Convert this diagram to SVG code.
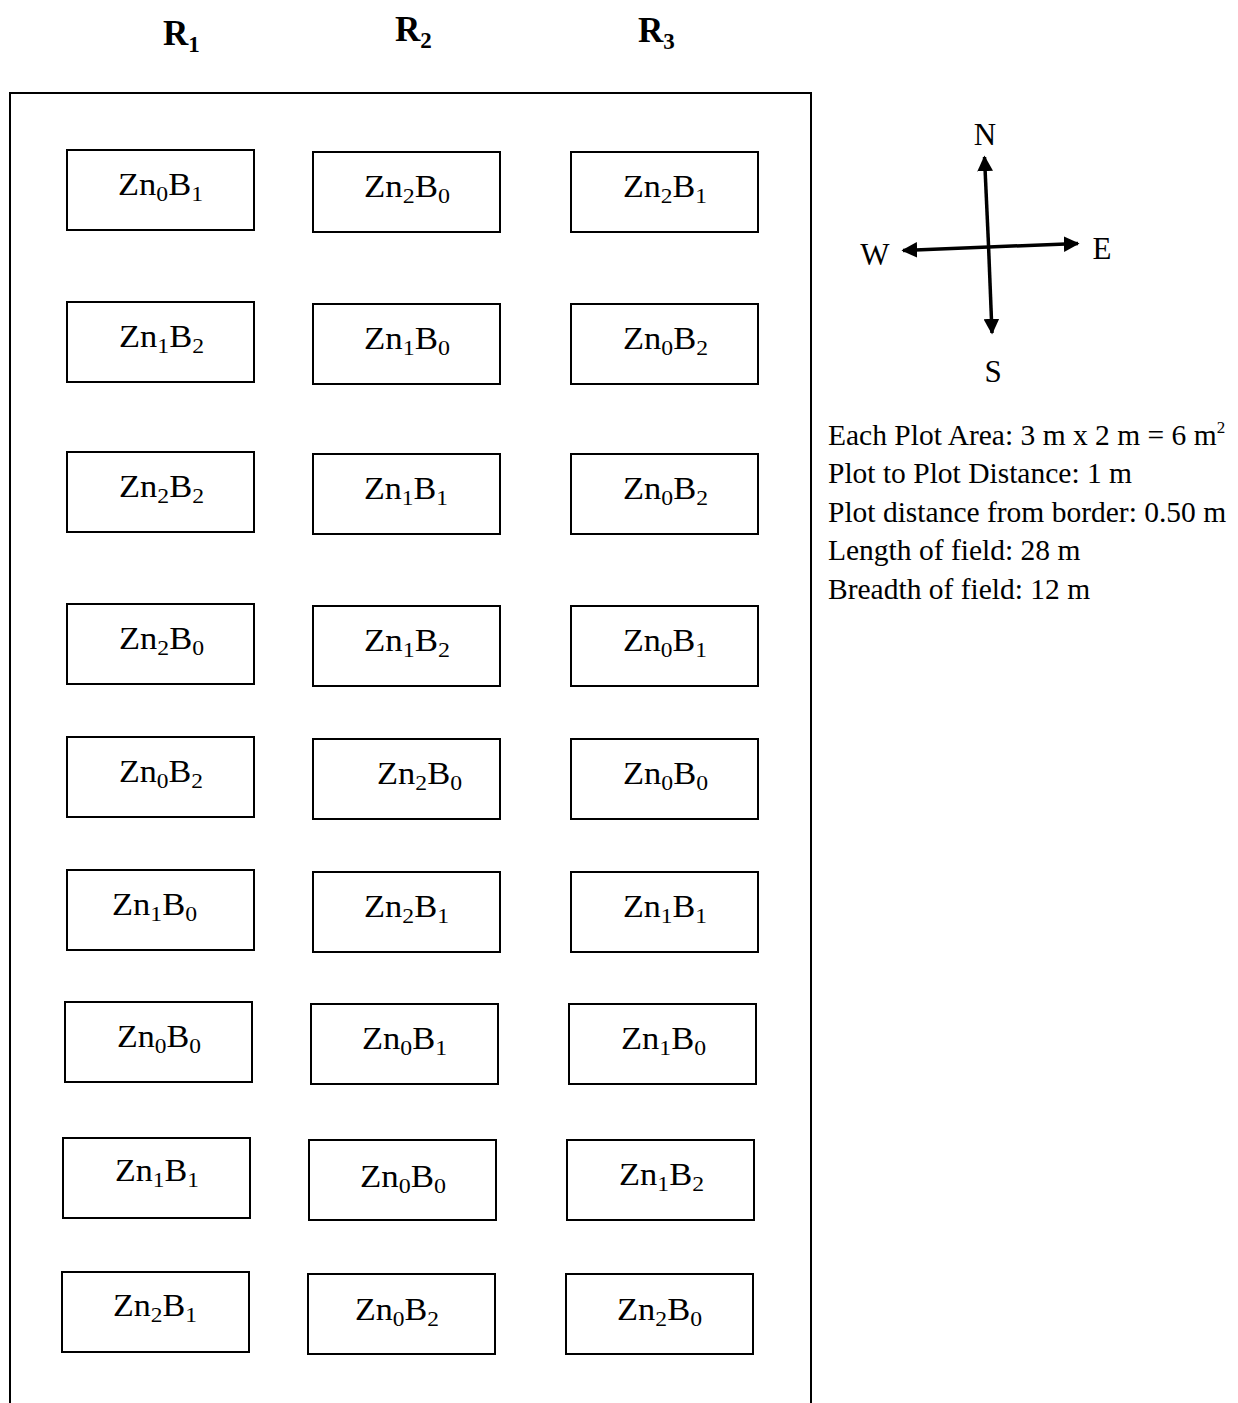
<svg xmlns="http://www.w3.org/2000/svg" width="1238" height="1403" viewBox="0 0 1238 1403">
<style>
.plot{fill:#fff;stroke:#000;stroke-width:2}
.lbl{font-family:"Liberation Serif","Times New Roman",serif;font-size:32px;fill:#000}
.sub{font-size:22px}
.hdr{font-family:"Liberation Serif","Times New Roman",serif;font-size:35px;font-weight:bold;fill:#000}
.hsub{font-size:23px}
.leg{font-family:"Liberation Serif","Times New Roman",serif;font-size:29.5px;fill:#000}
.cmp{font-family:"Liberation Serif","Times New Roman",serif;font-size:31px;fill:#000;text-anchor:middle}
.ax{stroke:#000;stroke-width:3.5;fill:none}
</style>
<defs>
<marker id="ah" viewBox="0 0 10 10" refX="9" refY="5" markerWidth="4.5" markerHeight="4.5" markerUnits="strokeWidth" orient="auto">
<path d="M0,0 L10,5 L0,10 z" fill="#000"/>
</marker>
</defs>
<rect width="1238" height="1403" fill="#fff"/>
<g id="headers">
<text class="hdr" x="163" y="45">R<tspan class="hsub" dy="7">1</tspan></text>
<text class="hdr" x="395" y="41">R<tspan class="hsub" dy="7">2</tspan></text>
<text class="hdr" x="638" y="42">R<tspan class="hsub" dy="7">3</tspan></text>
</g>
<g id="field">
<path d="M10,1403 V93 H811 V1403" fill="none" stroke="#000" stroke-width="2"/>
</g>
<g id="plots">
<g id="p1-1"><rect class="plot" x="67" y="150" width="187" height="80"/><text class="lbl" x="118" y="195" textLength="85" lengthAdjust="spacingAndGlyphs">Zn<tspan class="sub" dy="6">0</tspan><tspan dy="-6">B</tspan><tspan class="sub" dy="6">1</tspan></text></g>
<g id="p1-2"><rect class="plot" x="313" y="152" width="187" height="80"/><text class="lbl" x="364" y="197" textLength="86" lengthAdjust="spacingAndGlyphs">Zn<tspan class="sub" dy="6">2</tspan><tspan dy="-6">B</tspan><tspan class="sub" dy="6">0</tspan></text></g>
<g id="p1-3"><rect class="plot" x="571" y="152" width="187" height="80"/><text class="lbl" x="623" y="197" textLength="84" lengthAdjust="spacingAndGlyphs">Zn<tspan class="sub" dy="6">2</tspan><tspan dy="-6">B</tspan><tspan class="sub" dy="6">1</tspan></text></g>

<g id="p2-1"><rect class="plot" x="67" y="302" width="187" height="80"/><text class="lbl" x="119" y="347" textLength="85" lengthAdjust="spacingAndGlyphs">Zn<tspan class="sub" dy="6">1</tspan><tspan dy="-6">B</tspan><tspan class="sub" dy="6">2</tspan></text></g>
<g id="p2-2"><rect class="plot" x="313" y="304" width="187" height="80"/><text class="lbl" x="364" y="349" textLength="86" lengthAdjust="spacingAndGlyphs">Zn<tspan class="sub" dy="6">1</tspan><tspan dy="-6">B</tspan><tspan class="sub" dy="6">0</tspan></text></g>
<g id="p2-3"><rect class="plot" x="571" y="304" width="187" height="80"/><text class="lbl" x="623" y="349" textLength="85" lengthAdjust="spacingAndGlyphs">Zn<tspan class="sub" dy="6">0</tspan><tspan dy="-6">B</tspan><tspan class="sub" dy="6">2</tspan></text></g>

<g id="p3-1"><rect class="plot" x="67" y="452" width="187" height="80"/><text class="lbl" x="119" y="497" textLength="85" lengthAdjust="spacingAndGlyphs">Zn<tspan class="sub" dy="6">2</tspan><tspan dy="-6">B</tspan><tspan class="sub" dy="6">2</tspan></text></g>
<g id="p3-2"><rect class="plot" x="313" y="454" width="187" height="80"/><text class="lbl" x="364" y="499" textLength="84" lengthAdjust="spacingAndGlyphs">Zn<tspan class="sub" dy="6">1</tspan><tspan dy="-6">B</tspan><tspan class="sub" dy="6">1</tspan></text></g>
<g id="p3-3"><rect class="plot" x="571" y="454" width="187" height="80"/><text class="lbl" x="623" y="499" textLength="85" lengthAdjust="spacingAndGlyphs">Zn<tspan class="sub" dy="6">0</tspan><tspan dy="-6">B</tspan><tspan class="sub" dy="6">2</tspan></text></g>

<g id="p4-1"><rect class="plot" x="67" y="604" width="187" height="80"/><text class="lbl" x="119" y="649" textLength="85" lengthAdjust="spacingAndGlyphs">Zn<tspan class="sub" dy="6">2</tspan><tspan dy="-6">B</tspan><tspan class="sub" dy="6">0</tspan></text></g>
<g id="p4-2"><rect class="plot" x="313" y="606" width="187" height="80"/><text class="lbl" x="364" y="651" textLength="86" lengthAdjust="spacingAndGlyphs">Zn<tspan class="sub" dy="6">1</tspan><tspan dy="-6">B</tspan><tspan class="sub" dy="6">2</tspan></text></g>
<g id="p4-3"><rect class="plot" x="571" y="606" width="187" height="80"/><text class="lbl" x="623" y="651" textLength="84" lengthAdjust="spacingAndGlyphs">Zn<tspan class="sub" dy="6">0</tspan><tspan dy="-6">B</tspan><tspan class="sub" dy="6">1</tspan></text></g>

<g id="p5-1"><rect class="plot" x="67" y="737" width="187" height="80"/><text class="lbl" x="119" y="782" textLength="84" lengthAdjust="spacingAndGlyphs">Zn<tspan class="sub" dy="6">0</tspan><tspan dy="-6">B</tspan><tspan class="sub" dy="6">2</tspan></text></g>
<g id="p5-2"><rect class="plot" x="313" y="739" width="187" height="80"/><text class="lbl" x="377" y="784" textLength="85" lengthAdjust="spacingAndGlyphs">Zn<tspan class="sub" dy="6">2</tspan><tspan dy="-6">B</tspan><tspan class="sub" dy="6">0</tspan></text></g>
<g id="p5-3"><rect class="plot" x="571" y="739" width="187" height="80"/><text class="lbl" x="623" y="784" textLength="85" lengthAdjust="spacingAndGlyphs">Zn<tspan class="sub" dy="6">0</tspan><tspan dy="-6">B</tspan><tspan class="sub" dy="6">0</tspan></text></g>

<g id="p6-1"><rect class="plot" x="67" y="870" width="187" height="80"/><text class="lbl" x="112" y="915" textLength="85" lengthAdjust="spacingAndGlyphs">Zn<tspan class="sub" dy="6">1</tspan><tspan dy="-6">B</tspan><tspan class="sub" dy="6">0</tspan></text></g>
<g id="p6-2"><rect class="plot" x="313" y="872" width="187" height="80"/><text class="lbl" x="364" y="917" textLength="85" lengthAdjust="spacingAndGlyphs">Zn<tspan class="sub" dy="6">2</tspan><tspan dy="-6">B</tspan><tspan class="sub" dy="6">1</tspan></text></g>
<g id="p6-3"><rect class="plot" x="571" y="872" width="187" height="80"/><text class="lbl" x="623" y="917" textLength="84" lengthAdjust="spacingAndGlyphs">Zn<tspan class="sub" dy="6">1</tspan><tspan dy="-6">B</tspan><tspan class="sub" dy="6">1</tspan></text></g>

<g id="p7-1"><rect class="plot" x="65" y="1002" width="187" height="80"/><text class="lbl" x="117" y="1047" textLength="84" lengthAdjust="spacingAndGlyphs">Zn<tspan class="sub" dy="6">0</tspan><tspan dy="-6">B</tspan><tspan class="sub" dy="6">0</tspan></text></g>
<g id="p7-2"><rect class="plot" x="311" y="1004" width="187" height="80"/><text class="lbl" x="362" y="1049" textLength="85" lengthAdjust="spacingAndGlyphs">Zn<tspan class="sub" dy="6">0</tspan><tspan dy="-6">B</tspan><tspan class="sub" dy="6">1</tspan></text></g>
<g id="p7-3"><rect class="plot" x="569" y="1004" width="187" height="80"/><text class="lbl" x="621" y="1049" textLength="85" lengthAdjust="spacingAndGlyphs">Zn<tspan class="sub" dy="6">1</tspan><tspan dy="-6">B</tspan><tspan class="sub" dy="6">0</tspan></text></g>

<g id="p8-1"><rect class="plot" x="63" y="1138" width="187" height="80"/><text class="lbl" x="115" y="1181" textLength="84" lengthAdjust="spacingAndGlyphs">Zn<tspan class="sub" dy="6">1</tspan><tspan dy="-6">B</tspan><tspan class="sub" dy="6">1</tspan></text></g>
<g id="p8-2"><rect class="plot" x="309" y="1140" width="187" height="80"/><text class="lbl" x="360" y="1187" textLength="86" lengthAdjust="spacingAndGlyphs">Zn<tspan class="sub" dy="6">0</tspan><tspan dy="-6">B</tspan><tspan class="sub" dy="6">0</tspan></text></g>
<g id="p8-3"><rect class="plot" x="567" y="1140" width="187" height="80"/><text class="lbl" x="619" y="1185" textLength="85" lengthAdjust="spacingAndGlyphs">Zn<tspan class="sub" dy="6">1</tspan><tspan dy="-6">B</tspan><tspan class="sub" dy="6">2</tspan></text></g>

<g id="p9-1"><rect class="plot" x="62" y="1272" width="187" height="80"/><text class="lbl" x="113" y="1316" textLength="84" lengthAdjust="spacingAndGlyphs">Zn<tspan class="sub" dy="6">2</tspan><tspan dy="-6">B</tspan><tspan class="sub" dy="6">1</tspan></text></g>
<g id="p9-2"><rect class="plot" x="308" y="1274" width="187" height="80"/><text class="lbl" x="355" y="1320" textLength="84" lengthAdjust="spacingAndGlyphs">Zn<tspan class="sub" dy="6">0</tspan><tspan dy="-6">B</tspan><tspan class="sub" dy="6">2</tspan></text></g>
<g id="p9-3"><rect class="plot" x="566" y="1274" width="187" height="80"/><text class="lbl" x="617" y="1320" textLength="85" lengthAdjust="spacingAndGlyphs">Zn<tspan class="sub" dy="6">2</tspan><tspan dy="-6">B</tspan><tspan class="sub" dy="6">0</tspan></text></g>
</g>
<g id="compass">
<line class="ax" x1="988.5" y1="245" x2="984.5" y2="157" marker-end="url(#ah)"/>
<line class="ax" x1="988.5" y1="245" x2="992" y2="333" marker-end="url(#ah)"/>
<line class="ax" x1="988.5" y1="247" x2="1078" y2="243.5" marker-end="url(#ah)"/>
<line class="ax" x1="988.5" y1="247" x2="903" y2="250.5" marker-end="url(#ah)"/>
<text class="cmp" x="985" y="145">N</text>
<text class="cmp" x="875" y="265">W</text>
<text class="cmp" x="1102" y="259">E</text>
<text class="cmp" x="993" y="382">S</text>
</g>
<g id="legend">
<text class="leg" x="828" y="444.5">Each Plot Area: 3 m x 2 m = 6 m<tspan font-size="17" dy="-12">2</tspan></text>
<text class="leg" x="828" y="483">Plot to Plot Distance: 1 m</text>
<text class="leg" x="828" y="521.5">Plot distance from border: 0.50 m</text>
<text class="leg" x="828" y="560">Length of field: 28 m</text>
<text class="leg" x="828" y="598.5">Breadth of field: 12 m</text>
</g>
</svg>
